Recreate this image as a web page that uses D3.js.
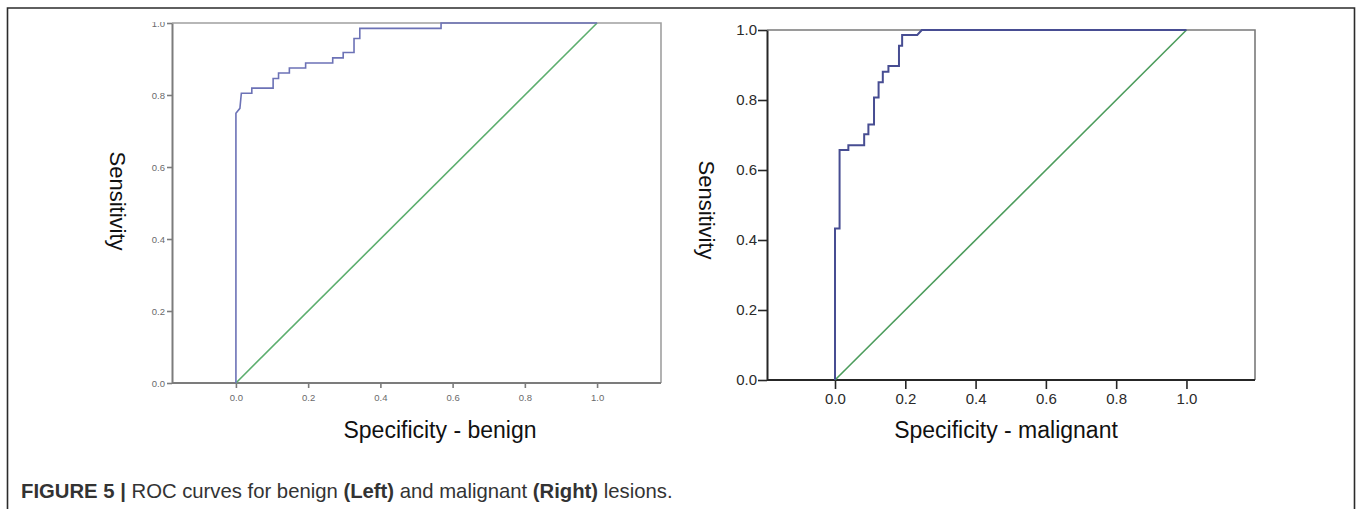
<!DOCTYPE html>
<html>
<head>
<meta charset="utf-8">
<script src="https://cdn.jsdelivr.net/npm/d3@7"></script>
<style>
  body { margin: 0; background: #fff; }
  svg { display: block; font-family: Arial, "Liberation Sans", sans-serif; }
</style>
</head>
<body>
<svg id="chart" width="1360" height="509"></svg>
<script>
// tick labels shared by both panels
const tickValues = [0, 0.2, 0.4, 0.6, 0.8, 1.0];
// reference (chance) diagonal
const chanceLine = [0, 1];

// benign ROC curve, vertices
const benignFpr = [0, 0, 0.011, 0.015, 0.044, 0.044, 0.103, 0.103, 0.118, 0.118, 0.148, 0.148, 0.193, 0.193, 0.268, 0.268, 0.297, 0.297, 0.327, 0.327, 0.343, 0.343, 0.568, 0.568, 1];
const benignTpr = [0, 0.749, 0.763, 0.805, 0.805, 0.819, 0.819, 0.846, 0.846, 0.861, 0.861, 0.875, 0.875, 0.889, 0.889, 0.903, 0.903, 0.918, 0.918, 0.957, 0.957, 0.985, 0.985, 1, 1];

// malignant ROC curve
const malignantFpr = [0, 0, 0.013, 0.013, 0.038, 0.038, 0.083, 0.083, 0.095, 0.095, 0.111, 0.111, 0.124, 0.124, 0.136, 0.136, 0.152, 0.152, 0.182, 0.182, 0.191, 0.191, 0.234, 0.247, 1];
const malignantTpr = [0, 0.433, 0.433, 0.657, 0.657, 0.671, 0.671, 0.702, 0.702, 0.730, 0.730, 0.807, 0.807, 0.851, 0.851, 0.881, 0.881, 0.897, 0.897, 0.955, 0.955, 0.986, 0.986, 1, 1];

const panels = [
  {
    name: 'benign',
    xTitle: 'Specificity - benign',
    fpr: benignFpr, tpr: benignTpr,
    xDomain: [-0.177, 1.177], xRange: [172, 661], yRange: [383, 23],
    xTitlePos: [440, 438], yTitlePos: [110, 201],
    axisColor: '#7c7c7c', frameColor: '#a0a0a0', tickColor: '#6a6a6a', tickFont: 9.5,
    curveColor: '#6c72b6', diagColor: '#5cae6e', curveWidth: 1.6, tickLen: 5, clipTop: 22
  },
  {
    name: 'malignant',
    xTitle: 'Specificity - malignant',
    fpr: malignantFpr, tpr: malignantTpr,
    xDomain: [-0.1935, 1.195], xRange: [767, 1255], yRange: [380, 30],
    xTitlePos: [1006, 438], yTitlePos: [699, 210],
    axisColor: '#262626', frameColor: '#7a7a7a', tickColor: '#2a2a2a', tickFont: 15,
    curveColor: '#474d92', diagColor: '#4c9c5c', curveWidth: 2, tickLen: 9, clipTop: 0
  }
];

const svg = d3.select('#chart');

// outer figure frame (open at the bottom)
svg.append('path')
  .attr('d', 'M7.5,509 L7.5,8 L1354.5,8 L1354.5,509')
  .attr('fill', 'none')
  .attr('stroke', '#2b2b2b')
  .attr('stroke-width', 1.6);

panels.forEach(p => {
  const x = d3.scaleLinear().domain(p.xDomain).range(p.xRange);
  const y = d3.scaleLinear().domain([0, 1]).range(p.yRange);

  svg.append('clipPath')
    .attr('id', `clip-${p.name}`)
    .append('rect')
    .attr('x', 0).attr('y', p.clipTop)
    .attr('width', 1360).attr('height', 509);

  const g = svg.append('g')
    .attr('class', `panel-${p.name}`)
    .attr('clip-path', `url(#clip-${p.name})`);

  // top and right frame of the plot box
  g.append('path')
    .attr('d', `M${x.range()[0]},${y(1)} L${x.range()[1]},${y(1)} L${x.range()[1]},${y(0)}`)
    .attr('fill', 'none')
    .attr('stroke', p.frameColor)
    .attr('stroke-width', 1.6);

  const axisX = d3.axisBottom(x)
    .tickValues(tickValues)
    .tickFormat(d3.format('.1f'))
    .tickSizeInner(p.tickLen)
    .tickSizeOuter(0)
    .tickPadding(p.name === 'benign' ? 6 : 4);

  const axisY = d3.axisLeft(y)
    .tickValues(tickValues)
    .tickFormat(d3.format('.1f'))
    .tickSizeInner(p.tickLen)
    .tickSizeOuter(0)
    .tickPadding(p.name === 'benign' ? 2 : 1);

  const gx = g.append('g')
    .attr('transform', `translate(0,${y(0)})`)
    .call(axisX);

  const gy = g.append('g')
    .attr('transform', `translate(${x.range()[0]},0)`)
    .call(axisY);

  [gx, gy].forEach(ax => {
    ax.select('.domain')
      .attr('stroke', p.axisColor)
      .attr('stroke-width', 2);
    ax.selectAll('.tick line')
      .attr('stroke', p.axisColor)
      .attr('stroke-width', 1.6);
    ax.selectAll('.tick text')
      .attr('fill', p.tickColor)
      .style('font-size', `${p.tickFont}px`)
      .style('font-family', 'Arial, "Liberation Sans", sans-serif');
  });

  // x domain line spans the whole plot width
  gx.select('.domain').attr('d', `M${x.range()[0]},0H${x.range()[1]}`);

  // chance diagonal
  g.append('line')
    .attr('x1', x(chanceLine[0])).attr('y1', y(chanceLine[0]))
    .attr('x2', x(chanceLine[1])).attr('y2', y(chanceLine[1]))
    .attr('stroke', p.diagColor)
    .attr('stroke-width', 1.6);

  // ROC curve
  const line = d3.line()
    .x(i => x(p.fpr[i]))
    .y(i => y(p.tpr[i]));

  g.append('path')
    .attr('d', line(d3.range(p.fpr.length)))
    .attr('fill', 'none')
    .attr('stroke', p.curveColor)
    .attr('stroke-width', p.curveWidth);

  // axis titles
  g.append('text')
    .attr('x', p.xTitlePos[0])
    .attr('y', p.xTitlePos[1])
    .attr('text-anchor', 'middle')
    .attr('fill', '#111')
    .style('font-size', '23px')
    .text(p.xTitle);

  g.append('text')
    .attr('transform', `translate(${p.yTitlePos[0]},${p.yTitlePos[1]}) rotate(90)`)
    .attr('text-anchor', 'middle')
    .attr('fill', '#111')
    .style('font-size', '22px')
    .text('Sensitivity');
});

// caption
const caption = svg.append('text')
  .attr('x', 21)
  .attr('y', 498)
  .attr('fill', '#333')
  .style('font-size', '20.3px');

const captionParts = [
  ['FIGURE 5 | ', true],
  ['ROC curves for benign ', false],
  ['(Left)', true],
  [' and malignant ', false],
  ['(Right)', true],
  [' lesions.', false]
];

caption.selectAll('tspan')
  .data(captionParts)
  .enter()
  .append('tspan')
  .style('font-weight', d => d[1] ? 'bold' : 'normal')
  .text(d => d[0]);
</script>
</body>
</html>
